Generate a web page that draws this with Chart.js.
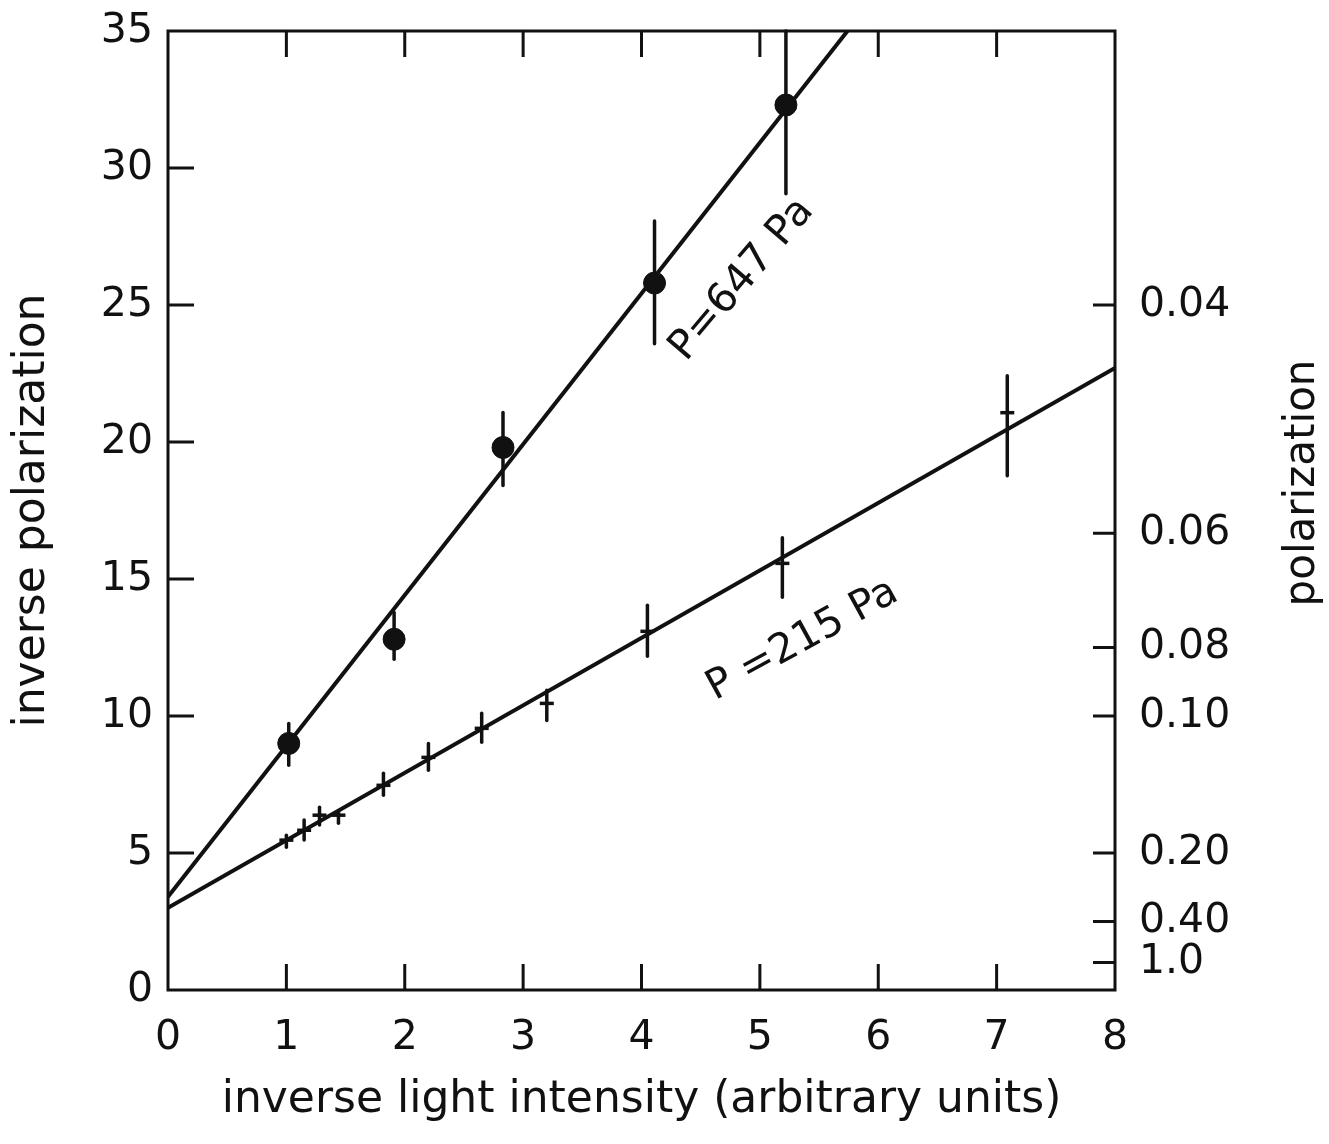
<!DOCTYPE html>
<html>
<head>
<meta charset="utf-8">
<script src="https://cdn.jsdelivr.net/npm/chart.js@4.4.1/dist/chart.umd.min.js"></script>
<style>
  html, body { margin: 0; padding: 0; background: #fff; }
  canvas { display: block; }
</style>
</head>
<body>
<canvas id="c" width="1329" height="1144"></canvas>
<script>
// ---------- data ----------
const xTickValues = [0, 1, 2, 3, 4, 5, 6, 7, 8];
const yTickValues = [0, 5, 10, 15, 20, 25, 30, 35];
const polTickValues = [0.04, 0.06, 0.08, 0.10, 0.20, 0.40, 1.0];
const polTickLabels = ['0.04', '0.06', '0.08', '0.10', '0.20', '0.40', '1.0'];

// P = 647 Pa (filled circles)
const p647X  = [1.02, 1.91, 2.83, 4.11, 5.22];
const p647Y  = [9.0, 12.8, 19.8, 25.8, 32.3];
const p647Lo = [8.2, 12.07, 18.41, 23.59, 29.06];
const p647Hi = [9.73, 13.78, 21.08, 28.07, 35.0];

// P = 215 Pa (crosses)
const p215X  = [1.0, 1.15, 1.28, 1.44, 1.82, 2.2, 2.65, 3.2, 4.05, 5.19, 7.09];
const p215Y  = [5.47, 5.83, 6.38, 6.38, 7.47, 8.49, 9.55, 10.46, 13.09, 15.57, 21.07];
const p215Lo = [5.21, 5.47, 6.02, 6.09, 7.11, 8.02, 9.04, 9.84, 12.18, 14.33, 18.77];
const p215Hi = [5.65, 6.2, 6.67, 6.49, 7.91, 9.0, 10.1, 10.94, 14.04, 16.51, 22.42];

// fitted straight lines (end points)
const fit647X = [0, 5.74];
const fit647Y = [3.4, 35];
const fit215X = [0, 8];
const fit215Y = [3.0, 22.7];

// curve labels
const labelTexts = ['P=647 Pa', 'P =215 Pa'];
const labelX = [4.85, 5.36];
const labelY = [25.92, 12.76];
const labelAngle = [-49.7, -28.7];

// ---------- styling ----------
const INK = '#111';
const FONT = '"DejaVu Sans", "Open Sans", sans-serif';

const pts = (xs, ys) => xs.map((x, i) => ({ x: x, y: ys[i] }));

const errorBars = [
  { xs: p647X, lo: p647Lo, hi: p647Hi },
  { xs: p215X, lo: p215Lo, hi: p215Hi }
];

const framePlugin = {
  id: 'frame',
  beforeDatasetsDraw(chart) {
    const ctx = chart.ctx;
    const xs = chart.scales.x, ys = chart.scales.y;
    ctx.save();
    ctx.strokeStyle = INK;
    ctx.lineWidth = 3.5;
    ctx.lineCap = 'round';
    errorBars.forEach(eb => {
      eb.xs.forEach((xv, i) => {
        const px = xs.getPixelForValue(xv);
        ctx.beginPath();
        ctx.moveTo(px, ys.getPixelForValue(eb.lo[i]));
        ctx.lineTo(px, ys.getPixelForValue(eb.hi[i]));
        ctx.stroke();
      });
    });
    ctx.restore();
  },
  afterDraw(chart) {
    const ctx = chart.ctx;
    const a = chart.chartArea;
    const xs = chart.scales.x, ys = chart.scales.y, y2 = chart.scales.y2;
    ctx.save();
    ctx.strokeStyle = INK;
    ctx.lineWidth = 3;
    ctx.lineCap = 'butt';
    ctx.strokeRect(a.left, a.top, a.right - a.left, a.bottom - a.top);
    // inward tick marks
    ctx.beginPath();
    xTickValues.slice(1, -1).forEach(v => {
      const px = xs.getPixelForValue(v);
      ctx.moveTo(px, a.bottom); ctx.lineTo(px, a.bottom - 26);
      ctx.moveTo(px, a.top); ctx.lineTo(px, a.top + 26);
    });
    yTickValues.slice(1, -1).forEach(v => {
      const py = ys.getPixelForValue(v);
      ctx.moveTo(a.left, py); ctx.lineTo(a.left + 26, py);
    });
    polTickValues.forEach(p => {
      const py = y2.getPixelForValue(1 / p);
      ctx.moveTo(a.right, py); ctx.lineTo(a.right - 22, py);
    });
    ctx.stroke();

    // right-hand axis title (reads bottom to top)
    ctx.fillStyle = INK;
    ctx.font = '42px ' + FONT;
    ctx.textAlign = 'center';
    ctx.textBaseline = 'middle';
    ctx.save();
    ctx.translate(1303, 483);
    ctx.rotate(-Math.PI / 2);
    ctx.fillText('polarization', 0, 0);
    ctx.restore();

    // curve labels
    ctx.font = '41px ' + FONT;
    labelTexts.forEach((t, i) => {
      ctx.save();
      ctx.translate(xs.getPixelForValue(labelX[i]), ys.getPixelForValue(labelY[i]));
      ctx.rotate(labelAngle[i] * Math.PI / 180);
      ctx.fillText(t, 0, 0);
      ctx.restore();
    });
    ctx.restore();
  }
};

const tickFont = { family: FONT, size: 41 };
const titleFont = { family: FONT, size: 44 };
const noVertPad = s => { s.paddingTop = 0; s.paddingBottom = 0; };

new Chart(document.getElementById('c'), {
  type: 'scatter',
  data: {
    datasets: [
      {
        label: 'fit 647 Pa', type: 'line', data: pts(fit647X, fit647Y),
        borderColor: INK, borderWidth: 4, pointRadius: 0, fill: false, tension: 0
      },
      {
        label: 'fit 215 Pa', type: 'line', data: pts(fit215X, fit215Y),
        borderColor: INK, borderWidth: 4, pointRadius: 0, fill: false, tension: 0
      },
      {
        label: 'P=647 Pa', data: pts(p647X, p647Y),
        pointStyle: 'circle', pointRadius: 11, backgroundColor: INK, borderColor: INK, borderWidth: 1
      },
      {
        label: 'P=215 Pa', data: pts(p215X, p215Y),
        pointStyle: 'line', pointRadius: 7, borderColor: INK, borderWidth: 3.5, backgroundColor: INK
      }
    ]
  },
  options: {
    responsive: false,
    animation: false,
    devicePixelRatio: 1,
    layout: { padding: { top: 31, left: 0, right: 0, bottom: 0 } },
    plugins: { legend: { display: false }, tooltip: { enabled: false } },
    scales: {
      x: {
        type: 'linear', position: 'bottom', min: 0, max: 8,
        afterBuildTicks: s => { s.ticks = xTickValues.map(v => ({ value: v })); },
        ticks: { color: INK, font: tickFont, padding: 24, maxRotation: 0, autoSkip: false },
        grid: { display: false, drawTicks: false },
        border: { display: false },
        title: {
          display: true, text: 'inverse light intensity (arbitrary units)',
          color: INK, font: titleFont, padding: { top: 0, bottom: 17 }
        },
        afterFit: s => { s.height = 154; s.paddingLeft = 0; s.paddingRight = 0; }
      },
      y: {
        type: 'linear', position: 'left', min: 0, max: 35,
        afterBuildTicks: s => { s.ticks = yTickValues.map(v => ({ value: v })); },
        ticks: { color: INK, font: tickFont, padding: 15, autoSkip: false },
        grid: { display: false, drawTicks: false },
        border: { display: false },
        title: {
          display: true, text: 'inverse polarization',
          color: INK, font: titleFont, padding: { top: 6, bottom: 0 }
        },
        afterFit: s => { s.width = 168; noVertPad(s); }
      },
      y2: {
        type: 'linear', position: 'right', min: 0, max: 35,
        afterBuildTicks: s => { s.ticks = polTickValues.map(p => ({ value: 1 / p })); },
        ticks: {
          color: INK, font: tickFont, padding: 24, autoSkip: false,
          callback: (v, i) => polTickLabels[i]
        },
        grid: { display: false, drawTicks: false },
        border: { display: false },
        afterFit: s => { s.width = 214; noVertPad(s); }
      }
    }
  },
  plugins: [framePlugin]
});
</script>
</body>
</html>
